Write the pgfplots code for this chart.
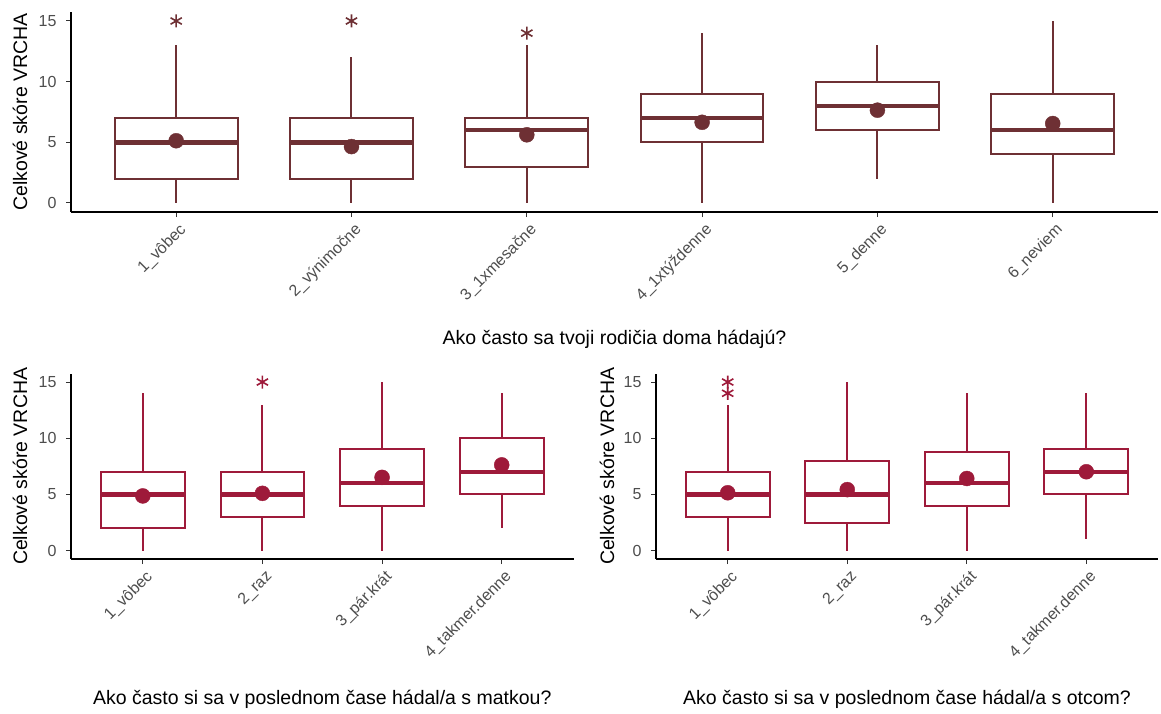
\documentclass[border=0pt]{standalone}
\usepackage{fontspec}
\setmainfont{Liberation Sans}
\usepackage{pgfplots}
\pgfplotsset{compat=1.18}
\usepgfplotslibrary{statistics}
\definecolor{topc}{RGB}{110,48,52}
\definecolor{botc}{RGB}{158,26,58}
\definecolor{tickgray}{RGB}{77,77,77}
\definecolor{tickline}{RGB}{51,51,51}

\pgfplotsset{
  panel/.style={
    scale only axis, anchor=south west,
    axis x line*=bottom, axis y line*=left,
    ymin=-0.75, ymax=15.75, ytick={0,5,10,15},
    axis line style={black, line width=1.3pt},
    tick style={tickline, line width=1pt},
    major tick length=5pt,
    tick align=outside,
    /pgf/number format/assume math mode=true,
    ticklabel style={font=\fontsize{16}{18}\selectfont, text=tickgray},
    yticklabel style={xshift=-6pt},
    xticklabel style={rotate=45, anchor=north east, inner sep=2pt, yshift=-3pt},
    label style={font=\fontsize{19.5}{22}\selectfont},
    ylabel={Celkové skóre VRCHA},
    y label style={at={(rel axis cs:0,0.5)}, yshift=51pt, anchor=center},
    clip=false,
    boxplot/draw direction=y,
    boxplot/every box/.style={line width=2pt},
    boxplot/every whisker/.style={line width=2pt},
    boxplot/every median/.style={line width=4.5pt},
  },
  bx/.style={line width=2pt, mark=asterisk, mark size=6.5pt, mark options={line width=1.6pt}},
}

\begin{document}
\begin{tikzpicture}
\useasboundingbox (0,0) rectangle (1161pt,713pt);

% ---------- top panel ----------
\begin{axis}[panel, at={(71pt,500.9pt)}, width=1087pt, height=200.2pt,
  xmin=0.4, xmax=6.6, xtick={1,2,3,4,5,6},
  xticklabels={1\_vôbec,2\_výnimočne,3\_1xmesačne,4\_1xtýždenne,5\_denne,6\_neviem},
  xlabel={Ako často sa tvoji rodičia doma hádajú?},
  x label style={at={(rel axis cs:0.5,0)}, yshift=-127pt, anchor=center}]
\addplot[draw=topc, bx, boxplot prepared={lower whisker=0, lower quartile=2, median=5, upper quartile=7, upper whisker=13, draw position=1, box extend=0.7, whisker extend=0}] coordinates {(0,15)};
\addplot[draw=topc, bx, boxplot prepared={lower whisker=0, lower quartile=2, median=5, upper quartile=7, upper whisker=12, draw position=2, box extend=0.7, whisker extend=0}] coordinates {(0,15)};
\addplot[draw=topc, bx, boxplot prepared={lower whisker=0, lower quartile=3, median=6, upper quartile=7, upper whisker=13, draw position=3, box extend=0.7, whisker extend=0}] coordinates {(0,14)};
\addplot[draw=topc, bx, boxplot prepared={lower whisker=0, lower quartile=5, median=7, upper quartile=9, upper whisker=14, draw position=4, box extend=0.7, whisker extend=0}] coordinates {};
\addplot[draw=topc, bx, boxplot prepared={lower whisker=2, lower quartile=6, median=8, upper quartile=10, upper whisker=13, draw position=5, box extend=0.7, whisker extend=0}] coordinates {};
\addplot[draw=topc, bx, boxplot prepared={lower whisker=0, lower quartile=4, median=6, upper quartile=9, upper whisker=15, draw position=6, box extend=0.7, whisker extend=0}] coordinates {};
\addplot[only marks, mark=*, mark size=7.5pt, color=topc] coordinates {(1,5.13)(2,4.65)(3,5.62)(4,6.65)(5,7.65)(6,6.55)};
\end{axis}

% ---------- bottom left ----------
\begin{axis}[panel, at={(71pt,153.9pt)}, width=502.5pt, height=185.5pt,
  xmin=0.4, xmax=4.6, xtick={1,2,3,4},
  xticklabels={1\_vôbec,2\_raz,3\_pár.krát,4\_takmer.denne},
  xlabel={Ako často si sa v poslednom čase hádal/a s matkou?},
  x label style={at={(rel axis cs:0.5,0)}, yshift=-140.5pt, anchor=center}]
\addplot[draw=botc, bx, boxplot prepared={lower whisker=0, lower quartile=2, median=5, upper quartile=7, upper whisker=14, draw position=1, box extend=0.7, whisker extend=0}] coordinates {};
\addplot[draw=botc, bx, boxplot prepared={lower whisker=0, lower quartile=3, median=5, upper quartile=7, upper whisker=13, draw position=2, box extend=0.7, whisker extend=0}] coordinates {(0,15)};
\addplot[draw=botc, bx, boxplot prepared={lower whisker=0, lower quartile=4, median=6, upper quartile=9, upper whisker=15, draw position=3, box extend=0.7, whisker extend=0}] coordinates {};
\addplot[draw=botc, bx, boxplot prepared={lower whisker=2, lower quartile=5, median=7, upper quartile=10, upper whisker=14, draw position=4, box extend=0.7, whisker extend=0}] coordinates {};
\addplot[only marks, mark=*, mark size=7.5pt, color=botc] coordinates {(1,4.87)(2,5.1)(3,6.52)(4,7.63)};
\end{axis}

% ---------- bottom right ----------
\begin{axis}[panel, at={(656pt,153.9pt)}, width=502pt, height=185.5pt,
  xmin=0.4, xmax=4.6, xtick={1,2,3,4},
  xticklabels={1\_vôbec,2\_raz,3\_pár.krát,4\_takmer.denne},
  xlabel={Ako často si sa v poslednom čase hádal/a s otcom?},
  x label style={at={(rel axis cs:0.5,0)}, yshift=-140.5pt, anchor=center},
  y label style={yshift=-2pt}]
\addplot[draw=botc, bx, boxplot prepared={lower whisker=0, lower quartile=3, median=5, upper quartile=7, upper whisker=13, draw position=1, box extend=0.7, whisker extend=0}] coordinates {(0,14)(0,15)};
\addplot[draw=botc, bx, boxplot prepared={lower whisker=0, lower quartile=2.5, median=5, upper quartile=8, upper whisker=15, draw position=2, box extend=0.7, whisker extend=0}] coordinates {};
\addplot[draw=botc, bx, boxplot prepared={lower whisker=0, lower quartile=4, median=6, upper quartile=8.75, upper whisker=14, draw position=3, box extend=0.7, whisker extend=0}] coordinates {};
\addplot[draw=botc, bx, boxplot prepared={lower whisker=1, lower quartile=5, median=7, upper quartile=9, upper whisker=14, draw position=4, box extend=0.7, whisker extend=0}] coordinates {};
\addplot[only marks, mark=*, mark size=7.5pt, color=botc] coordinates {(1,5.15)(2,5.43)(3,6.42)(4,7.02)};
\end{axis}
\end{tikzpicture}
\end{document}
